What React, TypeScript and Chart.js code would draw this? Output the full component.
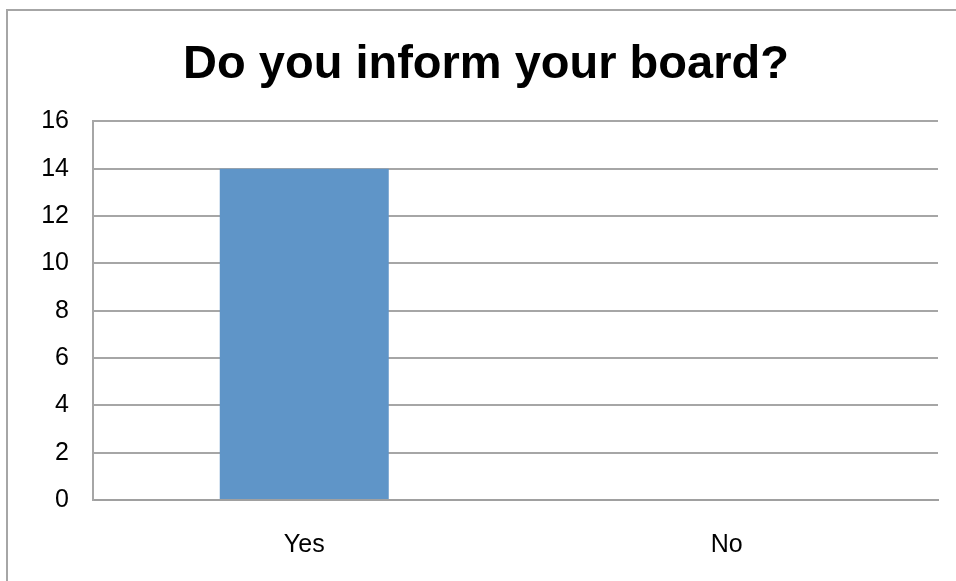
import React, { useEffect, useRef } from "react";
import { Chart, registerables } from "chart.js";

Chart.register(...registerables);

const categories: string[] = ["Yes", "No"];
const values: number[] = [14, 0];
const yMin = 0;
const yMax = 16;
const yStep = 2;
const titleText = "Do you inform your board?";

export default function App() {
  const ref = useRef<HTMLCanvasElement | null>(null);

  useEffect(() => {
    if (!ref.current) return;
    const frame = {
      id: "frame",
      beforeDraw(chart: any) {
        const ctx = chart.ctx;
        ctx.save();
        ctx.strokeStyle = "#A6A6A6";
        ctx.lineWidth = 2;
        ctx.beginPath();
        ctx.moveTo(7, 581);
        ctx.lineTo(7, 10);
        ctx.lineTo(956, 10);
        ctx.stroke();
        ctx.restore();
      },
    };
    const font = "'Liberation Sans', Arial, sans-serif";
    const chart = new Chart(ref.current, {
      type: "bar",
      data: {
        labels: categories,
        datasets: [
          {
            data: values,
            backgroundColor: "#5F95C8",
            barPercentage: 0.4,
            categoryPercentage: 1,
          },
        ],
      },
      options: {
        animation: false,
        responsive: false,
        layout: { padding: { left: 34, right: 18, top: 12, bottom: 20 } },
        plugins: {
          legend: { display: false },
          tooltip: { enabled: false },
          title: {
            display: true,
            text: titleText,
            color: "#000000",
            font: { family: font, size: 47, weight: "bold" },
            padding: { top: 25, bottom: 28 },
          },
        },
        scales: {
          x: {
            grid: { display: false, drawTicks: false },
            border: { display: true, color: "#A0A0A0", width: 2 },
            ticks: { color: "#000000", font: { family: font, size: 25 }, padding: 30 },
            afterFit(s: any) {
              s.height = 61;
            },
          },
          y: {
            min: yMin,
            max: yMax,
            ticks: { stepSize: yStep, color: "#000000", font: { family: font, size: 25 }, padding: 24 },
            grid: { color: "#A6A6A6", lineWidth: 2, drawTicks: false },
            border: { display: true, color: "#A6A6A6", width: 2 },
            afterFit(s: any) {
              s.width = 59;
            },
          },
        },
      },
      plugins: [frame],
    } as any);
    return () => chart.destroy();
  }, []);

  return (
    <div style={{ position: "fixed", left: 0, top: 0, width: 956, height: 581, background: "#ffffff" }}>
      <canvas ref={ref} width={956} height={581} style={{ display: "block" }} />
    </div>
  );
}
